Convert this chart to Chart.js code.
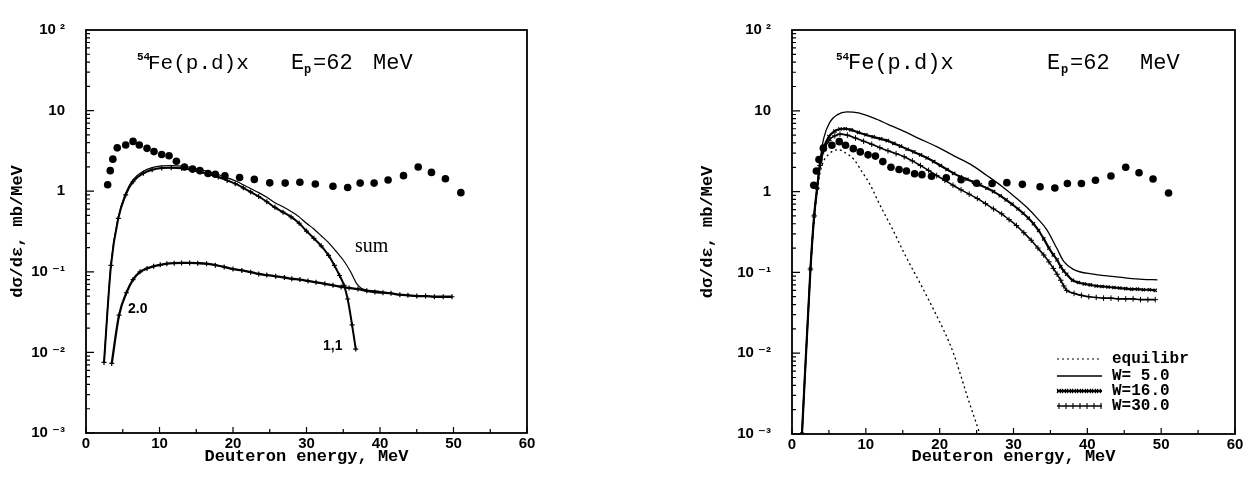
<!DOCTYPE html>
<html><head><meta charset="utf-8">
<script src="https://cdn.jsdelivr.net/npm/chart.js@4.4.1/dist/chart.umd.min.js"></script>
<style>
html,body{margin:0;padding:0;background:#fff;}
#wrap{position:relative;width:1254px;height:483px;overflow:hidden;background:#fff;}
.box{position:absolute;top:0;width:627px;height:483px;}
</style></head><body>
<div id="wrap">
<div class="box" style="left:0"><canvas id="c1"></canvas></div>
<div class="box" style="left:627px"><canvas id="c2"></canvas></div>
</div>
<script>
// ---------- axis ticks ----------
const xTickVals = [0, 10, 20, 30, 40, 50, 60];
const yTickVals = [0.001, 0.01, 0.1, 1, 10, 100];
const yTickLabels = ['10 ⁻³', '10 ⁻²', '10 ⁻¹', '1', '10', '10 ²'];

// ---------- experimental data (both panels) ----------
const expE  = [2.95, 3.3, 3.65, 4.25, 5.4, 6.4, 7.25, 8.3, 9.25, 10.3, 11.3, 12.3, 13.4, 14.5, 15.5, 16.6, 17.6, 18.9, 20.9, 22.9, 25.0, 27.1, 29.1, 31.2, 33.6, 35.6, 37.3, 39.2, 41.1, 43.2, 45.2, 47.0, 48.9, 51.0];
const expXS = [1.2, 1.8, 2.5, 3.45, 3.75, 4.15, 3.75, 3.4, 3.1, 2.85, 2.75, 2.35, 2.0, 1.88, 1.8, 1.66, 1.62, 1.55, 1.48, 1.4, 1.27, 1.26, 1.29, 1.23, 1.15, 1.11, 1.26, 1.26, 1.38, 1.56, 2.0, 1.71, 1.43, 0.96];

// ---------- left panel: components ----------
const c11E  = [2.45, 3.4, 4.4, 5.4, 6.4, 7.8, 9.0, 10.3, 11.6, 13.0, 14.3, 15.5, 16.8, 18.0, 19.2, 20.3, 21.4, 22.4, 23.5, 24.6, 25.7, 26.8, 27.9, 29.0, 30.0, 31.0, 32.0, 33.0, 33.8, 34.5, 35.1, 35.6, 36.2, 36.7];
const c11XS = [0.0075, 0.12, 0.46, 0.90, 1.31, 1.67, 1.85, 1.94, 1.96, 1.93, 1.85, 1.74, 1.61, 1.50, 1.36, 1.24, 1.10, 0.98, 0.86, 0.74, 0.63, 0.55, 0.48, 0.40, 0.32, 0.26, 0.21, 0.16, 0.12, 0.09, 0.068, 0.046, 0.022, 0.011];

const sumE  = [2.45, 3.4, 4.4, 5.4, 6.4, 7.8, 9.0, 10.3, 11.6, 13.0, 14.3, 15.5, 16.8, 18.0, 19.2, 20.3, 21.4, 22.4, 23.5, 24.6, 25.7, 26.8, 27.9, 29.0, 30.0, 31.0, 32.0, 33.0, 34.0, 35.0, 36.0, 36.8, 37.5, 38.5, 40.0, 42.0, 44.0, 46.0, 48.0, 49.8];
const sumXS = [0.0075, 0.127, 0.485, 0.95, 1.39, 1.77, 1.96, 2.06, 2.08, 2.05, 1.97, 1.86, 1.73, 1.61, 1.47, 1.35, 1.20, 1.08, 0.96, 0.84, 0.72, 0.64, 0.56, 0.48, 0.40, 0.34, 0.28, 0.23, 0.18, 0.14, 0.10, 0.072, 0.062, 0.059, 0.057, 0.053, 0.051, 0.050, 0.049, 0.049];

const c20E  = [3.5, 4.5, 5.5, 6.4, 7.35, 8.3, 9.2, 10.1, 11.0, 12.0, 13.0, 14.1, 15.2, 16.4, 17.6, 18.8, 20.0, 21.2, 22.4, 23.5, 24.6, 25.8, 27.0, 28.0, 29.1, 30.2, 31.3, 32.5, 33.6, 34.7, 35.8, 37.0, 38.2, 39.3, 40.4, 41.5, 42.7, 43.8, 45.0, 46.2, 47.4, 48.6, 49.8];
const c20XS = [0.0073, 0.029, 0.055, 0.080, 0.100, 0.110, 0.117, 0.122, 0.126, 0.128, 0.129, 0.129, 0.128, 0.126, 0.121, 0.115, 0.108, 0.104, 0.099, 0.094, 0.091, 0.088, 0.085, 0.082, 0.080, 0.077, 0.074, 0.071, 0.068, 0.065, 0.063, 0.061, 0.058, 0.056, 0.055, 0.054, 0.052, 0.051, 0.050, 0.050, 0.049, 0.049, 0.049];

// ---------- right panel: W variants ----------
const eqE  = [2.5, 3.0, 3.4, 3.8, 4.3, 5.0, 5.6, 6.3, 7.0, 8.4, 9.5, 10.6, 11.6, 12.4, 13.5, 15.1, 16.2, 17.4, 18.5, 19.6, 20.7, 21.9, 22.8, 23.7, 24.5, 25.3, 25.6];
const eqXS = [0.11, 0.45, 0.95, 1.7, 2.4, 2.9, 3.2, 3.3, 3.1, 2.49, 1.75, 1.21, 0.78, 0.557, 0.36, 0.18, 0.115, 0.072, 0.046, 0.029, 0.018, 0.0098, 0.0055, 0.003, 0.0018, 0.0011, 0.0009];

const w5E  = [1.35, 2.5, 3.0, 3.4, 3.8, 4.3, 5.2, 6.1, 7.45, 9.0, 11.1, 13.0, 15.1, 17.3, 19.6, 22.0, 24.2, 26.4, 28.5, 30.2, 31.8, 33.2, 34.5, 35.9, 36.8, 38.1, 40.8, 43.0, 45.4, 47.5, 49.5];
const w5XS = [0.001, 0.11, 0.5, 1.1, 2.4, 4.6, 7.4, 8.9, 9.7, 9.4, 8.1, 6.8, 5.6, 4.5, 3.6, 2.75, 2.17, 1.58, 1.15, 0.86, 0.64, 0.47, 0.339, 0.196, 0.137, 0.109, 0.095, 0.090, 0.085, 0.082, 0.081];

const w16E  = [1.35, 2.5, 3.0, 3.4, 3.8, 4.3, 5.0, 5.8, 6.5, 7.2, 8.0, 9.0, 10.0, 11.0, 12.0, 12.9, 13.8, 14.7, 15.6, 16.5, 17.4, 18.3, 19.2, 20.1, 21.0, 21.9, 22.8, 23.7, 24.6, 25.5, 26.4, 27.3, 28.2, 29.0, 29.8, 30.6, 31.3, 32.0, 32.7, 33.4, 34.1, 34.8, 35.4, 35.9, 36.4, 36.8, 37.2, 38.0, 38.8, 39.6, 40.4, 41.2, 42.0, 42.8, 43.6, 44.4, 45.2, 46.0, 46.8, 47.6, 48.4, 49.2];
const w16XS = [0.001, 0.11, 0.5, 1.1, 2.2, 3.5, 4.8, 5.6, 5.95, 6.0, 5.8, 5.4, 5.05, 4.75, 4.5, 4.28, 3.95, 3.65, 3.35, 3.1, 2.85, 2.6, 2.35, 2.1, 1.88, 1.68, 1.53, 1.42, 1.31, 1.21, 1.1, 1.0, 0.89, 0.79, 0.70, 0.61, 0.54, 0.47, 0.40, 0.33, 0.26, 0.20, 0.165, 0.143, 0.118, 0.104, 0.095, 0.080, 0.075, 0.072, 0.070, 0.068, 0.067, 0.066, 0.065, 0.064, 0.063, 0.062, 0.062, 0.061, 0.061, 0.060];

const w30E  = [1.35, 2.5, 3.0, 3.4, 3.8, 4.3, 5.0, 5.8, 6.5, 7.5, 8.6, 9.7, 10.8, 11.9, 13.0, 14.1, 15.2, 16.3, 17.4, 18.5, 19.6, 20.7, 21.8, 22.9, 24.0, 25.1, 26.2, 27.3, 28.4, 29.4, 30.4, 31.4, 32.4, 33.3, 34.1, 34.8, 35.4, 35.9, 36.4, 36.8, 37.2, 38.2, 39.2, 40.2, 41.2, 42.2, 43.2, 44.2, 45.2, 46.2, 47.2, 48.2, 49.2];
const w30XS = [0.001, 0.11, 0.5, 1.1, 2.1, 3.2, 4.3, 4.9, 5.15, 5.0, 4.6, 4.2, 3.85, 3.5, 3.2, 2.95, 2.7, 2.4, 2.1, 1.83, 1.58, 1.38, 1.2, 1.05, 0.93, 0.82, 0.71, 0.61, 0.53, 0.45, 0.38, 0.31, 0.25, 0.20, 0.164, 0.135, 0.112, 0.095, 0.080, 0.068, 0.060, 0.055, 0.052, 0.050, 0.049, 0.048, 0.048, 0.047, 0.047, 0.047, 0.046, 0.046, 0.046];

const legendLabels = ['equilibr', 'W= 5.0', 'W=16.0', 'W=30.0'];

// ---------- helpers ----------
const FONT_S = '"Liberation Sans", "DejaVu Sans", sans-serif';
const FONT_M = '"Liberation Mono", "DejaVu Sans Mono", monospace';
const FONT_R = '"Liberation Serif", "DejaVu Serif", serif';
const pts = (xs, ys) => xs.map((x, i) => ({x: x, y: ys[i]}));

const frameTicks = {
  id: 'frameTicks',
  afterDatasetsDraw(chart) {
    const {ctx, chartArea: a, scales: {x, y}} = chart;
    ctx.save();
    ctx.strokeStyle = '#000';
    ctx.lineWidth = 1.8;
    ctx.strokeRect(a.left, a.top, a.right - a.left, a.bottom - a.top);
    ctx.lineWidth = 1.2;
    ctx.beginPath();
    for (let n = -3; n <= 1; n++) {
      for (let k = 1; k <= 9; k++) {
        const py = y.getPixelForValue(k * Math.pow(10, n));
        const len = k === 1 ? 8 : 4;
        ctx.moveTo(a.left, py); ctx.lineTo(a.left + len, py);
      }
    }
    for (let v = 0; v <= 60; v += 5) {
      const px = x.getPixelForValue(v);
      const len = v % 10 === 0 ? 6 : 4;
      ctx.moveTo(px, a.bottom); ctx.lineTo(px, a.bottom - len);
    }
    ctx.stroke();
    ctx.restore();
  }
};

const notes = {
  id: 'notes',
  afterDraw(chart, args, opts) {
    const ctx = chart.ctx;
    ctx.save();
    ctx.fillStyle = '#000';
    ctx.textBaseline = 'middle';
    ctx.textAlign = 'left';
    (opts.items || []).forEach(it => {
      ctx.font = it.f;
      ctx.fillText(it.t, it.x, it.y);
    });
    const lg = opts.legend;
    if (lg) {
      lg.rows.forEach((r, i) => {
        const y = lg.ys[i];
        ctx.strokeStyle = '#000';
        ctx.lineWidth = r.w;
        ctx.setLineDash(r.dash || []);
        ctx.beginPath(); ctx.moveTo(lg.x1, y); ctx.lineTo(lg.x2, y); ctx.stroke();
        ctx.setLineDash([]);
        if (r.mark) {
          ctx.lineWidth = 1.1;
          for (let px = lg.x1 + 2; px <= lg.x2; px += r.step) {
            ctx.beginPath();
            if (r.mark === 'x') {
              ctx.moveTo(px - 2, y - 2); ctx.lineTo(px + 2, y + 2);
              ctx.moveTo(px - 2, y + 2); ctx.lineTo(px + 2, y - 2);
            } else {
              ctx.moveTo(px, y - 3); ctx.lineTo(px, y + 3);
            }
            ctx.stroke();
          }
        }
        ctx.font = 'bold 16px ' + FONT_M;
        ctx.fillText(legendLabels[i], lg.tx, y);
      });
    }
    ctx.restore();
  }
};

function makeOptions(cfg) {
  return {
    responsive: true,
    maintainAspectRatio: false,
    animation: false,
    devicePixelRatio: 1,
    layout: {padding: cfg.pad},
    plugins: {
      legend: {display: false},
      tooltip: {enabled: false},
      notes: cfg.notes
    },
    scales: {
      x: {
        type: 'linear', min: 0, max: 60,
        afterBuildTicks: s => { s.ticks = xTickVals.map(v => ({value: v})); },
        afterFit: s => { s.height = cfg.xh; },
        grid: {display: false, drawTicks: false},
        border: {display: false},
        ticks: {autoSkip: false, maxRotation: 0, padding: 2, color: '#000',
                font: {family: FONT_S, size: 15, weight: 'bold'},
                callback: v => String(v)},
        title: {display: true, text: 'Deuteron energy, MeV', color: '#000',
                font: {family: FONT_M, size: 17, weight: 'bold'},
                padding: {top: 0, bottom: 16}}
      },
      y: {
        type: 'logarithmic', min: 0.001, max: 100,
        afterBuildTicks: s => { s.ticks = yTickVals.map(v => ({value: v})); },
        afterFit: s => { s.width = cfg.yw; },
        grid: {display: false, drawTicks: false},
        border: {display: false},
        ticks: {autoSkip: false, padding: 21, color: '#000',
                font: {family: FONT_S, size: 15, weight: 'bold'},
                callback: v => {
                  const i = yTickVals.findIndex(t => Math.abs(Math.log10(t) - Math.log10(v)) < 1e-6);
                  return i >= 0 ? yTickLabels[i] : '';
                }},
        title: {display: true, text: 'dσ/dε, mb/MeV', color: '#000',
                font: {family: FONT_M, size: 17, weight: 'bold'},
                padding: {top: cfg.ytp, bottom: 0}}
      }
    }
  };
}

const lineBase = {borderColor: '#000', backgroundColor: '#000', fill: false,
                  cubicInterpolationMode: 'monotone', pointRadius: 0, pointHoverRadius: 0};
const expSet = {showLine: false, pointRadius: 3.8, pointStyle: 'circle',
                pointBackgroundColor: '#000', pointBorderColor: '#000', pointBorderWidth: 0};

// ---------- left chart ----------
new Chart(document.getElementById('c1'), {
  type: 'line',
  data: {datasets: [
    Object.assign({}, lineBase, {label: 'sum', data: pts(sumE, sumXS), borderWidth: 1.2}),
    Object.assign({}, lineBase, {label: '1,1', data: pts(c11E, c11XS), borderWidth: 2,
      pointRadius: 2.5, pointStyle: 'cross', pointBorderWidth: 1.2, pointBorderColor: '#000'}),
    Object.assign({}, lineBase, {label: '2,0', data: pts(c20E, c20XS), borderWidth: 2.3,
      pointRadius: 2.5, pointStyle: 'cross', pointBorderWidth: 1.2, pointBorderColor: '#000'}),
    Object.assign({label: 'exp'}, expSet, {data: pts(expE, expXS)})
  ]},
  options: makeOptions({
    pad: {left: 0, top: 14, right: 100, bottom: 0},
    xh: 50, yw: 86, ytp: 8,
    notes: {items: [
      {t: '54', x: 137, y: 57, f: 'bold 11px ' + FONT_M},
      {t: 'Fe(p.d)x', x: 148, y: 63, f: '21px ' + FONT_M},
      {t: 'E', x: 291, y: 63, f: '22px ' + FONT_M},
      {t: 'p', x: 304, y: 70, f: 'bold 12px ' + FONT_M},
      {t: '=62', x: 313, y: 63, f: '22px ' + FONT_M},
      {t: 'MeV', x: 373, y: 63, f: '22px ' + FONT_M},
      {t: 'sum', x: 355, y: 247, f: '20px ' + FONT_R},
      {t: '2.0', x: 128, y: 309, f: 'bold 14px ' + FONT_S},
      {t: '1,1', x: 323, y: 346, f: 'bold 14px ' + FONT_S}
    ]}
  }),
  plugins: [frameTicks, notes]
});

// ---------- right chart ----------
new Chart(document.getElementById('c2'), {
  type: 'line',
  data: {datasets: [
    Object.assign({}, lineBase, {label: 'equilibr', data: pts(eqE, eqXS), borderWidth: 1.3, borderDash: [2, 3]}),
    Object.assign({}, lineBase, {label: 'W=5.0', data: pts(w5E, w5XS), borderWidth: 1.3}),
    Object.assign({}, lineBase, {label: 'W=16.0', data: pts(w16E, w16XS), borderWidth: 2.2,
      pointRadius: 2.3, pointStyle: 'crossRot', pointBorderWidth: 1.2, pointBorderColor: '#000'}),
    Object.assign({}, lineBase, {label: 'W=30.0', data: pts(w30E, w30XS), borderWidth: 1.6,
      pointRadius: 2.8, pointStyle: 'cross', pointBorderWidth: 1, pointBorderColor: '#000'}),
    Object.assign({label: 'exp'}, expSet, {data: pts(expE, expXS)})
  ]},
  options: makeOptions({
    pad: {left: 70, top: 11, right: 19, bottom: 0},
    xh: 49, yw: 95, ytp: 1,
    notes: {
      items: [
        {t: '54', x: 209, y: 57, f: 'bold 11px ' + FONT_M},
        {t: 'Fe(p.d)x', x: 221, y: 63, f: '22px ' + FONT_M},
        {t: 'E', x: 420, y: 63, f: '22px ' + FONT_M},
        {t: 'p', x: 434, y: 70, f: 'bold 12px ' + FONT_M},
        {t: '=62', x: 443, y: 63, f: '22px ' + FONT_M},
        {t: 'MeV', x: 513, y: 63, f: '22px ' + FONT_M}
      ],
      legend: {
        x1: 430, x2: 475, tx: 485, ys: [359, 376, 391, 406],
        rows: [
          {w: 1.2, dash: [2, 3]},
          {w: 1.3},
          {w: 2.2, mark: 'x', step: 5},
          {w: 1.4, mark: '+', step: 7}
        ]
      }
    }
  }),
  plugins: [frameTicks, notes]
});
</script>
</body></html>
